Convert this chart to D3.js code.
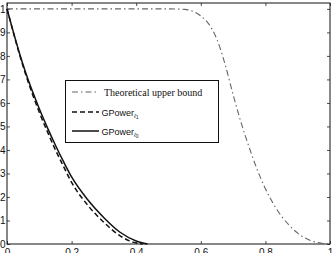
<!DOCTYPE html>
<html>
<head>
<meta charset="utf-8">
<script src="https://cdn.jsdelivr.net/npm/d3@7"></script>
<style>
  html, body { margin: 0; padding: 0; background: #fff; overflow: hidden; }
  svg { display: block; }
</style>
</head>
<body>
<div id="chart"></div>
<script>
// --- data ---
const boundX = [0, 0.1, 0.2, 0.3, 0.4, 0.5, 0.55, 0.575, 0.6, 0.625, 0.65, 0.675, 0.7, 0.725, 0.75, 0.775, 0.8, 0.825, 0.85, 0.875, 0.9, 0.925, 0.95, 0.975, 1.0];
const boundY = [1, 1, 1, 1, 1, 1, 0.998, 0.99, 0.97, 0.935, 0.87, 0.765, 0.635, 0.515, 0.41, 0.315, 0.235, 0.17, 0.118, 0.078, 0.046, 0.024, 0.01, 0.003, 0];

const l1X = [0, 0.02, 0.04, 0.06, 0.08, 0.1, 0.125, 0.15, 0.175, 0.2, 0.25, 0.3, 0.35, 0.39, 0.42];
const l1Y = [1, 0.898, 0.8, 0.712, 0.633, 0.56, 0.478, 0.4, 0.33, 0.262, 0.165, 0.092, 0.035, 0.008, 0];

const l0X = [0, 0.02, 0.04, 0.06, 0.08, 0.1, 0.125, 0.15, 0.175, 0.2, 0.25, 0.3, 0.35, 0.4, 0.435];
const l0Y = [1, 0.9, 0.805, 0.72, 0.645, 0.575, 0.495, 0.42, 0.35, 0.285, 0.188, 0.112, 0.05, 0.013, 0];

const xTicks = [0, 0.2, 0.4, 0.6, 0.8, 1];
const yTicks = [0, 0.1, 0.2, 0.3, 0.4, 0.5, 0.6, 0.7, 0.8, 0.9, 1];

const W = 334, H = 253;
const M = { left: 7, right: 330, top: 3, bottom: 244 };

const svg = d3.select('#chart').append('svg')
    .attr('width', W).attr('height', H);

const x = d3.scaleLinear().domain([0, 1]).range([M.left, M.right]);
const y = d3.scaleLinear().domain([0, 1.025]).range([M.bottom, M.top]);

const font = '"Liberation Sans", Arial, sans-serif';

// axes box with inward ticks on all sides (matlab style)
const tl = 3;
const axB = svg.append('g').attr('transform', `translate(0,${M.bottom})`)
    .call(d3.axisBottom(x).tickValues(xTicks).tickSizeInner(-tl).tickSizeOuter(0).tickPadding(5)
        .tickFormat(d => d3.format('~g')(d)));
const axT = svg.append('g').attr('transform', `translate(0,${M.top})`)
    .call(d3.axisTop(x).tickValues(xTicks).tickSizeInner(-tl).tickSizeOuter(0).tickFormat(''));
const axL = svg.append('g').attr('transform', `translate(${M.left},0)`)
    .call(d3.axisLeft(y).tickValues(yTicks).tickSizeInner(-tl).tickSizeOuter(0).tickPadding(1.5)
        .tickFormat(d => d3.format('~g')(d)));
const axR = svg.append('g').attr('transform', `translate(${M.right},0)`)
    .call(d3.axisRight(y).tickValues(yTicks).tickSizeInner(-tl).tickSizeOuter(0).tickFormat(''));

[axB, axT, axL, axR].forEach(a => {
    a.select('.domain').remove();
    a.selectAll('line').attr('stroke', '#222').attr('stroke-width', 0.8);
    a.selectAll('text').attr('font-family', font).attr('font-size', 10).attr('fill', '#111');
});

svg.append('rect')
    .attr('x', M.left).attr('y', M.top)
    .attr('width', M.right - M.left).attr('height', M.bottom - M.top)
    .attr('fill', 'none').attr('stroke', '#111').attr('stroke-width', 1);

const line = d3.line().x(d => x(d[0])).y(d => y(d[1])).curve(d3.curveMonotoneX);

svg.append('path')
    .datum(boundX.map((v, i) => [v, boundY[i]]))
    .attr('d', line)
    .attr('fill', 'none').attr('stroke', '#666').attr('stroke-width', 1.1)
    .attr('stroke-dasharray', '6,3,1.5,3');

svg.append('path')
    .datum(l1X.map((v, i) => [v, l1Y[i]]))
    .attr('d', line)
    .attr('fill', 'none').attr('stroke', '#111').attr('stroke-width', 1.5)
    .attr('stroke-dasharray', '5,3');

svg.append('path')
    .datum(l0X.map((v, i) => [v, l0Y[i]]))
    .attr('d', line)
    .attr('fill', 'none').attr('stroke', '#111').attr('stroke-width', 1.5);

// legend
const lg = svg.append('g');
lg.append('rect')
    .attr('x', 65.5).attr('y', 80.5).attr('width', 153).attr('height', 62)
    .attr('fill', '#fff').attr('stroke', '#111').attr('stroke-width', 1);

const items = [
    { y: 92, dash: '6,3,1.5,3', stroke: '#666', sw: 1.1 },
    { y: 112, dash: '5,3', stroke: '#111', sw: 1.5 },
    { y: 131, dash: null, stroke: '#111', sw: 1.5 }
];
items.forEach(it => {
    lg.append('line')
        .attr('x1', 72).attr('x2', 99).attr('y1', it.y).attr('y2', it.y)
        .attr('stroke', it.stroke).attr('stroke-width', it.sw)
        .attr('stroke-dasharray', it.dash);
});

lg.append('text')
    .attr('x', 104).attr('y', 95.5)
    .attr('font-family', '"Liberation Serif", "Times New Roman", serif')
    .attr('font-size', 10).attr('fill', '#111')
    .text('Theoretical upper bound');

[['ℓ', '1', 115.5], ['ℓ', '0', 134.5]].forEach(([s, n, ty]) => {
    const t = lg.append('text')
        .attr('x', 101.5).attr('y', ty)
        .attr('font-family', font).attr('font-size', 9).attr('fill', '#111');
    t.append('tspan').text('GPower');
    t.append('tspan').attr('font-size', 6).attr('dy', 2.5).attr('font-style', 'italic').text(s);
    t.append('tspan').attr('font-size', 4.5).attr('dy', 1).text(n);
});
</script>
</body>
</html>
